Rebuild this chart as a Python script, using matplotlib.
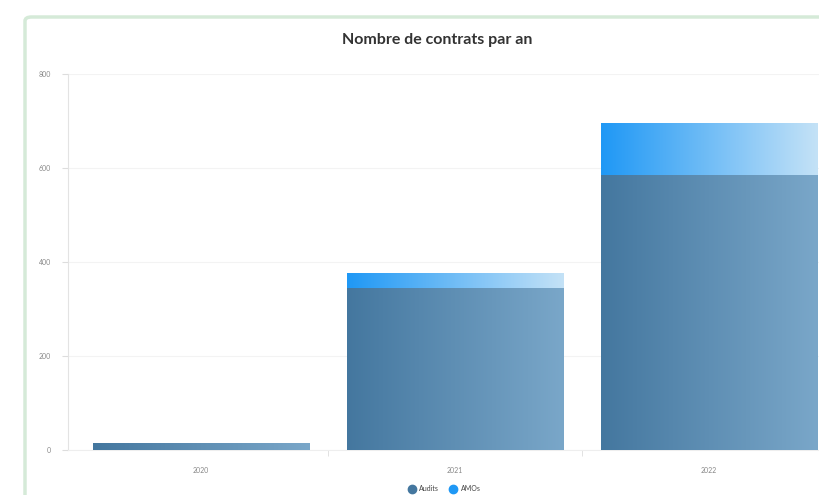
from matplotlib import pyplot as plt
from matplotlib.colors import LinearSegmentedColormap
from matplotlib.lines import Line2D
from matplotlib.patches import FancyBboxPatch
import numpy as np

plt.rcParams['font.family'] = ['Lato', 'DejaVu Sans']

# données
annees = ['2020', '2021', '2022']
audits = [13, 345, 585]
amos = [0, 30, 109]

# dégradés des barres
cmap_audits = LinearSegmentedColormap.from_list('audits', ['#44779f', '#7aa7c9'])
cmap_amos = LinearSegmentedColormap.from_list('amos', ['#1f98f5', '#c4e2f7'])

fig = plt.figure(figsize=(8.2, 4.95), dpi=100)

# cadre de la carte (derrière les axes)
cadre = FancyBboxPatch((25 / 820, -0.2), 1.2, 1 - 17 / 495 + 0.2,
                       boxstyle='round,pad=0,rounding_size=0.008',
                       transform=fig.transFigure, facecolor='white',
                       edgecolor='#d5ead8', linewidth=2.5, zorder=-10)
fig.patches.append(cadre)

ax = fig.add_axes([68 / 820, 45 / 495, 768 / 820, 376 / 495])
ax.set_facecolor('none')

largeur = 0.854
grad = np.linspace(0, 1, 256).reshape(1, -1)
for i in range(len(annees)):
    x0 = i - largeur / 2
    x1 = i + largeur / 2
    if audits[i] > 0:
        ax.imshow(grad, extent=[x0, x1, 0, audits[i]], aspect='auto',
                  cmap=cmap_audits, zorder=3)
    if amos[i] > 0:
        ax.imshow(grad, extent=[x0, x1, audits[i], audits[i] + amos[i]],
                  aspect='auto', cmap=cmap_amos, zorder=3)

ax.set_xlim(-0.524, 2.5)
ax.set_ylim(0, 800)

ax.set_yticks([0, 200, 400, 600, 800])
ax.set_xticks([0, 1, 2])
ax.set_xticklabels(annees)
ax.set_xticks([0.5, 1.5], minor=True)
ax.tick_params(axis='x', which='major', length=0, pad=12, labelsize=5, labelcolor='#888888')
ax.tick_params(axis='x', which='minor', length=4, color='#dddddd')
ax.tick_params(axis='y', length=4, color='#dddddd', pad=8, labelsize=5, labelcolor='#888888')
ax.grid(axis='y', color='#f3f3f3', linewidth=0.8, zorder=0)

for s in ['top', 'right']:
    ax.spines[s].set_visible(False)
ax.spines['left'].set_color('#e3e3e3')
ax.spines['bottom'].set_color('#eeeeee')
ax.spines['left'].set_linewidth(0.8)
ax.spines['bottom'].set_linewidth(0.8)

fig.text(0.533, 0.919, 'Nombre de contrats par an', ha='center', va='center',
         fontsize=11.5, fontweight='bold', color='#333333')

poignees = [Line2D([], [], marker='o', linestyle='', markersize=6, color='#44779f', label='Audits'),
            Line2D([], [], marker='o', linestyle='', markersize=6, color='#1f98f5', label='AMOs')]
fig.legend(handles=poignees, loc='center', bbox_to_anchor=(0.54, 0.013), ncol=2,
           frameon=False, fontsize=5, handletextpad=0.1, columnspacing=1.0,
           labelcolor='#444444')

plt.savefig('out.png', dpi=100)
